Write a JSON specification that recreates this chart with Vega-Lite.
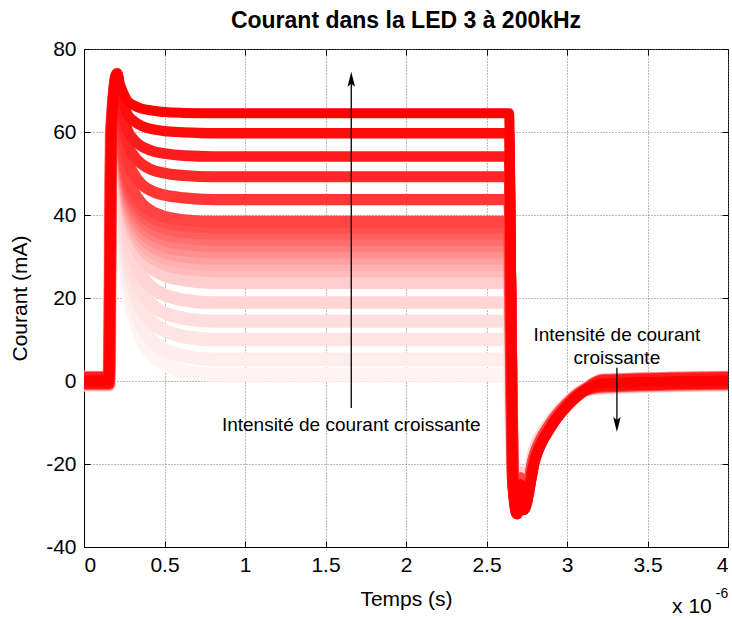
{
"$schema": "https://vega.github.io/schema/vega-lite/v6.json",
"width": 644, "height": 498,
"autosize": {"type": "none"},
"padding": {"left": 84, "top": 49, "right": 4, "bottom": 72},
"background": "white",
"title": {"text": "Courant dans la LED 3 à 200kHz", "fontSize": 23, "font": "Liberation Sans", "fontWeight": "bold", "color": "black", "offset": 5},
"config": {
 "title": {"color": "black"},
 "view": {"stroke": "black", "strokeWidth": 1},
 "axis": {"labelFont": "Liberation Sans", "labelFontSize": 21, "labelColor": "black", "titleFont": "Liberation Sans", "titleFontSize": 21, "titleFontWeight": "normal", "titleColor": "black", "domainColor": "black", "tickColor": "black", "tickSize": -6, "labelPadding": 8, "gridColor": "#777777", "gridDash": [1, 2], "gridWidth": 1}
},
"datasets": {
 "curves": [
  {"L":1.5,"t":0,"v":-0.8},{"L":1.5,"t":0.155,"v":-0.8},{"L":1.5,"t":0.17,"v":60},{"L":1.5,"t":0.205,"v":72},{"L":1.5,"t":0.225,"v":52.3},{"L":1.5,"t":0.245,"v":36.8},{"L":1.5,"t":0.27,"v":24.1},{"L":1.5,"t":0.31,"v":15.6},{"L":1.5,"t":0.36,"v":10},{"L":1.5,"t":0.42,"v":6.4},{"L":1.5,"t":0.5,"v":4},{"L":1.5,"t":0.62,"v":2.3},{"L":1.5,"t":0.8,"v":1.5},{"L":1.5,"t":2.64,"v":1.5},{"L":1.5,"t":2.665,"v":-22},{"L":1.5,"t":2.69,"v":-28.2},{"L":1.5,"t":2.71,"v":-22},{"L":1.5,"t":2.73,"v":-27.3},{"L":1.5,"t":2.8,"v":-16.7},{"L":1.5,"t":2.9,"v":-9.7},{"L":1.5,"t":3.0,"v":-5.3},{"L":1.5,"t":3.1,"v":-2.2},{"L":1.5,"t":3.22,"v":-1.5},{"L":1.5,"t":4,"v":-0.8},
  {"L":5.2,"t":0,"v":0.7},{"L":5.2,"t":0.155,"v":0.7},{"L":5.2,"t":0.17,"v":60},{"L":5.2,"t":0.205,"v":72},{"L":5.2,"t":0.225,"v":53.3},{"L":5.2,"t":0.245,"v":38.6},{"L":5.2,"t":0.27,"v":26.6},{"L":5.2,"t":0.31,"v":18.6},{"L":5.2,"t":0.36,"v":13.2},{"L":5.2,"t":0.42,"v":9.9},{"L":5.2,"t":0.5,"v":7.5},{"L":5.2,"t":0.62,"v":6},{"L":5.2,"t":0.8,"v":5.2},{"L":5.2,"t":2.64,"v":5.2},{"L":5.2,"t":2.665,"v":-22},{"L":5.2,"t":2.69,"v":-28.2},{"L":5.2,"t":2.71,"v":-22},{"L":5.2,"t":2.73,"v":-27.3},{"L":5.2,"t":2.8,"v":-16.7},{"L":5.2,"t":2.9,"v":-9.7},{"L":5.2,"t":3.0,"v":-5.3},{"L":5.2,"t":3.1,"v":-2.2},{"L":5.2,"t":3.22,"v":0},{"L":5.2,"t":4,"v":0.7},
  {"L":10,"t":0,"v":-0.3},{"L":10,"t":0.155,"v":-0.3},{"L":10,"t":0.17,"v":60},{"L":10,"t":0.205,"v":72},{"L":10,"t":0.225,"v":54.6},{"L":10,"t":0.245,"v":41},{"L":10,"t":0.27,"v":29.8},{"L":10,"t":0.31,"v":22.4},{"L":10,"t":0.36,"v":17.4},{"L":10,"t":0.42,"v":14.3},{"L":10,"t":0.5,"v":12.2},{"L":10,"t":0.62,"v":10.7},{"L":10,"t":0.8,"v":10},{"L":10,"t":2.64,"v":10},{"L":10,"t":2.665,"v":-22},{"L":10,"t":2.69,"v":-28.2},{"L":10,"t":2.71,"v":-22},{"L":10,"t":2.73,"v":-27.3},{"L":10,"t":2.8,"v":-16.7},{"L":10,"t":2.9,"v":-9.7},{"L":10,"t":3.0,"v":-5.3},{"L":10,"t":3.1,"v":-2.2},{"L":10,"t":3.22,"v":-1},{"L":10,"t":4,"v":-0.3},
  {"L":14.4,"t":0,"v":0.9},{"L":14.4,"t":0.155,"v":0.9},{"L":14.4,"t":0.17,"v":60},{"L":14.4,"t":0.205,"v":72},{"L":14.4,"t":0.225,"v":55.9},{"L":14.4,"t":0.245,"v":43.2},{"L":14.4,"t":0.27,"v":32.8},{"L":14.4,"t":0.31,"v":25.9},{"L":14.4,"t":0.36,"v":21.3},{"L":14.4,"t":0.42,"v":18.4},{"L":14.4,"t":0.5,"v":16.4},{"L":14.4,"t":0.62,"v":15.1},{"L":14.4,"t":0.8,"v":14.4},{"L":14.4,"t":2.64,"v":14.4},{"L":14.4,"t":2.665,"v":-22},{"L":14.4,"t":2.69,"v":-28.2},{"L":14.4,"t":2.71,"v":-22},{"L":14.4,"t":2.73,"v":-27.3},{"L":14.4,"t":2.8,"v":-16.7},{"L":14.4,"t":2.9,"v":-9.7},{"L":14.4,"t":3.0,"v":-5.3},{"L":14.4,"t":3.1,"v":-2.2},{"L":14.4,"t":3.22,"v":0.2},{"L":14.4,"t":4,"v":0.9},
  {"L":18.9,"t":0,"v":-1},{"L":18.9,"t":0.155,"v":-1},{"L":18.9,"t":0.17,"v":60},{"L":18.9,"t":0.205,"v":72},{"L":18.9,"t":0.225,"v":57.1},{"L":18.9,"t":0.245,"v":45.5},{"L":18.9,"t":0.27,"v":35.9},{"L":18.9,"t":0.31,"v":29.5},{"L":18.9,"t":0.36,"v":25.3},{"L":18.9,"t":0.42,"v":22.6},{"L":18.9,"t":0.5,"v":20.8},{"L":18.9,"t":0.62,"v":19.5},{"L":18.9,"t":0.8,"v":18.9},{"L":18.9,"t":2.64,"v":18.9},{"L":18.9,"t":2.665,"v":-22},{"L":18.9,"t":2.69,"v":-28.2},{"L":18.9,"t":2.71,"v":-22},{"L":18.9,"t":2.73,"v":-27.3},{"L":18.9,"t":2.8,"v":-16.7},{"L":18.9,"t":2.9,"v":-9.7},{"L":18.9,"t":3.0,"v":-5.3},{"L":18.9,"t":3.1,"v":-2.2},{"L":18.9,"t":3.22,"v":-1.7},{"L":18.9,"t":4,"v":-1},
  {"L":23.7,"t":0,"v":0.4},{"L":23.7,"t":0.155,"v":0.4},{"L":23.7,"t":0.17,"v":60},{"L":23.7,"t":0.205,"v":72},{"L":23.7,"t":0.225,"v":58.5},{"L":23.7,"t":0.245,"v":47.9},{"L":23.7,"t":0.27,"v":39.2},{"L":23.7,"t":0.31,"v":33.4},{"L":23.7,"t":0.36,"v":29.5},{"L":23.7,"t":0.42,"v":27.1},{"L":23.7,"t":0.5,"v":25.4},{"L":23.7,"t":0.62,"v":24.3},{"L":23.7,"t":0.8,"v":23.7},{"L":23.7,"t":2.64,"v":23.7},{"L":23.7,"t":2.665,"v":-23.5},{"L":23.7,"t":2.69,"v":-30.1},{"L":23.7,"t":2.71,"v":-23.5},{"L":23.7,"t":2.73,"v":-29.1},{"L":23.7,"t":2.8,"v":-17.9},{"L":23.7,"t":2.9,"v":-10.3},{"L":23.7,"t":3.0,"v":-5.6},{"L":23.7,"t":3.1,"v":-2.4},{"L":23.7,"t":3.22,"v":-0.3},{"L":23.7,"t":4,"v":0.4},
  {"L":26.5,"t":0,"v":-0.5},{"L":26.5,"t":0.155,"v":-0.5},{"L":26.5,"t":0.17,"v":60},{"L":26.5,"t":0.205,"v":72},{"L":26.5,"t":0.225,"v":59.3},{"L":26.5,"t":0.245,"v":49.3},{"L":26.5,"t":0.27,"v":41.1},{"L":26.5,"t":0.31,"v":35.6},{"L":26.5,"t":0.36,"v":32},{"L":26.5,"t":0.42,"v":29.7},{"L":26.5,"t":0.5,"v":28.1},{"L":26.5,"t":0.62,"v":27},{"L":26.5,"t":0.8,"v":26.5},{"L":26.5,"t":2.64,"v":26.5},{"L":26.5,"t":2.665,"v":-23.5},{"L":26.5,"t":2.69,"v":-30.1},{"L":26.5,"t":2.71,"v":-23.5},{"L":26.5,"t":2.73,"v":-29.1},{"L":26.5,"t":2.8,"v":-17.9},{"L":26.5,"t":2.9,"v":-10.3},{"L":26.5,"t":3.0,"v":-5.6},{"L":26.5,"t":3.1,"v":-2.4},{"L":26.5,"t":3.22,"v":-1.2},{"L":26.5,"t":4,"v":-0.5},
  {"L":28,"t":0,"v":0.8},{"L":28,"t":0.155,"v":0.8},{"L":28,"t":0.17,"v":60},{"L":28,"t":0.205,"v":72},{"L":28,"t":0.225,"v":59.7},{"L":28,"t":0.245,"v":50},{"L":28,"t":0.27,"v":42.1},{"L":28,"t":0.31,"v":36.8},{"L":28,"t":0.36,"v":33.3},{"L":28,"t":0.42,"v":31.1},{"L":28,"t":0.5,"v":29.5},{"L":28,"t":0.62,"v":28.5},{"L":28,"t":0.8,"v":28},{"L":28,"t":2.64,"v":28},{"L":28,"t":2.665,"v":-23.5},{"L":28,"t":2.69,"v":-30.1},{"L":28,"t":2.71,"v":-23.5},{"L":28,"t":2.73,"v":-29.1},{"L":28,"t":2.8,"v":-17.9},{"L":28,"t":2.9,"v":-10.3},{"L":28,"t":3.0,"v":-5.6},{"L":28,"t":3.1,"v":-2.4},{"L":28,"t":3.22,"v":0.1},{"L":28,"t":4,"v":0.8},
  {"L":29.5,"t":0,"v":-0.9},{"L":29.5,"t":0.155,"v":-0.9},{"L":29.5,"t":0.17,"v":60},{"L":29.5,"t":0.205,"v":72},{"L":29.5,"t":0.225,"v":60.1},{"L":29.5,"t":0.245,"v":50.8},{"L":29.5,"t":0.27,"v":43.1},{"L":29.5,"t":0.31,"v":38},{"L":29.5,"t":0.36,"v":34.6},{"L":29.5,"t":0.42,"v":32.5},{"L":29.5,"t":0.5,"v":31},{"L":29.5,"t":0.62,"v":30},{"L":29.5,"t":0.8,"v":29.5},{"L":29.5,"t":2.64,"v":29.5},{"L":29.5,"t":2.665,"v":-23.5},{"L":29.5,"t":2.69,"v":-30.1},{"L":29.5,"t":2.71,"v":-23.5},{"L":29.5,"t":2.73,"v":-29.1},{"L":29.5,"t":2.8,"v":-17.9},{"L":29.5,"t":2.9,"v":-10.3},{"L":29.5,"t":3.0,"v":-5.6},{"L":29.5,"t":3.1,"v":-2.4},{"L":29.5,"t":3.22,"v":-1.6},{"L":29.5,"t":4,"v":-0.9},
  {"L":31,"t":0,"v":0.2},{"L":31,"t":0.155,"v":0.2},{"L":31,"t":0.17,"v":60},{"L":31,"t":0.205,"v":72},{"L":31,"t":0.225,"v":60.5},{"L":31,"t":0.245,"v":51.5},{"L":31,"t":0.27,"v":44.1},{"L":31,"t":0.31,"v":39.2},{"L":31,"t":0.36,"v":35.9},{"L":31,"t":0.42,"v":33.9},{"L":31,"t":0.5,"v":32.4},{"L":31,"t":0.62,"v":31.5},{"L":31,"t":0.8,"v":31},{"L":31,"t":2.64,"v":31},{"L":31,"t":2.665,"v":-23.5},{"L":31,"t":2.69,"v":-30.1},{"L":31,"t":2.71,"v":-23.5},{"L":31,"t":2.73,"v":-29.1},{"L":31,"t":2.8,"v":-17.9},{"L":31,"t":2.9,"v":-10.3},{"L":31,"t":3.0,"v":-5.6},{"L":31,"t":3.1,"v":-2.4},{"L":31,"t":3.22,"v":-0.5},{"L":31,"t":4,"v":0.2},
  {"L":32.5,"t":0,"v":-0.6},{"L":32.5,"t":0.155,"v":-0.6},{"L":32.5,"t":0.17,"v":60},{"L":32.5,"t":0.205,"v":72},{"L":32.5,"t":0.225,"v":60.9},{"L":32.5,"t":0.245,"v":52.3},{"L":32.5,"t":0.27,"v":45.1},{"L":32.5,"t":0.31,"v":40.4},{"L":32.5,"t":0.36,"v":37.2},{"L":32.5,"t":0.42,"v":35.3},{"L":32.5,"t":0.5,"v":33.9},{"L":32.5,"t":0.62,"v":33},{"L":32.5,"t":0.8,"v":32.5},{"L":32.5,"t":2.64,"v":32.5},{"L":32.5,"t":2.665,"v":-23.5},{"L":32.5,"t":2.69,"v":-30.1},{"L":32.5,"t":2.71,"v":-23.5},{"L":32.5,"t":2.73,"v":-29.1},{"L":32.5,"t":2.8,"v":-17.9},{"L":32.5,"t":2.9,"v":-10.3},{"L":32.5,"t":3.0,"v":-5.6},{"L":32.5,"t":3.1,"v":-2.4},{"L":32.5,"t":3.22,"v":-1.3},{"L":32.5,"t":4,"v":-0.6},
  {"L":34,"t":0,"v":1},{"L":34,"t":0.155,"v":1},{"L":34,"t":0.17,"v":60},{"L":34,"t":0.205,"v":72},{"L":34,"t":0.225,"v":61.4},{"L":34,"t":0.245,"v":53},{"L":34,"t":0.27,"v":46.2},{"L":34,"t":0.31,"v":41.6},{"L":34,"t":0.36,"v":38.6},{"L":34,"t":0.42,"v":36.7},{"L":34,"t":0.5,"v":35.3},{"L":34,"t":0.62,"v":34.5},{"L":34,"t":0.8,"v":34},{"L":34,"t":2.64,"v":34},{"L":34,"t":2.665,"v":-23.5},{"L":34,"t":2.69,"v":-30.1},{"L":34,"t":2.71,"v":-23.5},{"L":34,"t":2.73,"v":-29.1},{"L":34,"t":2.8,"v":-17.9},{"L":34,"t":2.9,"v":-10.3},{"L":34,"t":3.0,"v":-5.6},{"L":34,"t":3.1,"v":-2.4},{"L":34,"t":3.22,"v":0.3},{"L":34,"t":4,"v":1},
  {"L":35.5,"t":0,"v":-0.2},{"L":35.5,"t":0.155,"v":-0.2},{"L":35.5,"t":0.17,"v":60},{"L":35.5,"t":0.205,"v":72},{"L":35.5,"t":0.225,"v":61.8},{"L":35.5,"t":0.245,"v":53.8},{"L":35.5,"t":0.27,"v":47.2},{"L":35.5,"t":0.31,"v":42.8},{"L":35.5,"t":0.36,"v":39.9},{"L":35.5,"t":0.42,"v":38.1},{"L":35.5,"t":0.5,"v":36.8},{"L":35.5,"t":0.62,"v":35.9},{"L":35.5,"t":0.8,"v":35.5},{"L":35.5,"t":2.64,"v":35.5},{"L":35.5,"t":2.665,"v":-23.5},{"L":35.5,"t":2.69,"v":-30.1},{"L":35.5,"t":2.71,"v":-23.5},{"L":35.5,"t":2.73,"v":-29.1},{"L":35.5,"t":2.8,"v":-17.9},{"L":35.5,"t":2.9,"v":-10.3},{"L":35.5,"t":3.0,"v":-5.6},{"L":35.5,"t":3.1,"v":-2.4},{"L":35.5,"t":3.22,"v":-0.9},{"L":35.5,"t":4,"v":-0.2},
  {"L":37,"t":0,"v":0.5},{"L":37,"t":0.155,"v":0.5},{"L":37,"t":0.17,"v":60},{"L":37,"t":0.205,"v":72},{"L":37,"t":0.225,"v":62.2},{"L":37,"t":0.245,"v":54.5},{"L":37,"t":0.27,"v":48.2},{"L":37,"t":0.31,"v":44},{"L":37,"t":0.36,"v":41.2},{"L":37,"t":0.42,"v":39.5},{"L":37,"t":0.5,"v":38.2},{"L":37,"t":0.62,"v":37.4},{"L":37,"t":0.8,"v":37},{"L":37,"t":2.64,"v":37},{"L":37,"t":2.665,"v":-23.5},{"L":37,"t":2.69,"v":-30.1},{"L":37,"t":2.71,"v":-23.5},{"L":37,"t":2.73,"v":-29.1},{"L":37,"t":2.8,"v":-17.9},{"L":37,"t":2.9,"v":-10.3},{"L":37,"t":3.0,"v":-5.6},{"L":37,"t":3.1,"v":-2.4},{"L":37,"t":3.22,"v":-0.2},{"L":37,"t":4,"v":0.5},
  {"L":38.4,"t":0,"v":-0.7},{"L":38.4,"t":0.155,"v":-0.7},{"L":38.4,"t":0.17,"v":60},{"L":38.4,"t":0.205,"v":74},{"L":38.4,"t":0.225,"v":64},{"L":38.4,"t":0.245,"v":56.2},{"L":38.4,"t":0.27,"v":49.8},{"L":38.4,"t":0.31,"v":45.5},{"L":38.4,"t":0.36,"v":42.7},{"L":38.4,"t":0.42,"v":40.9},{"L":38.4,"t":0.5,"v":39.6},{"L":38.4,"t":0.62,"v":38.8},{"L":38.4,"t":0.8,"v":38.4},{"L":38.4,"t":2.64,"v":38.4},{"L":38.4,"t":2.665,"v":-23.5},{"L":38.4,"t":2.69,"v":-30.1},{"L":38.4,"t":2.71,"v":-23.5},{"L":38.4,"t":2.73,"v":-29.1},{"L":38.4,"t":2.8,"v":-17.9},{"L":38.4,"t":2.9,"v":-10.3},{"L":38.4,"t":3.0,"v":-5.6},{"L":38.4,"t":3.1,"v":-2.4},{"L":38.4,"t":3.22,"v":-1.4},{"L":38.4,"t":4,"v":-0.7},
  {"L":43.7,"t":0,"v":0.6},{"L":43.7,"t":0.155,"v":0.6},{"L":43.7,"t":0.17,"v":60},{"L":43.7,"t":0.205,"v":74},{"L":43.7,"t":0.225,"v":65.5},{"L":43.7,"t":0.245,"v":58.9},{"L":43.7,"t":0.27,"v":53.4},{"L":43.7,"t":0.31,"v":49.8},{"L":43.7,"t":0.36,"v":47.3},{"L":43.7,"t":0.42,"v":45.8},{"L":43.7,"t":0.5,"v":44.8},{"L":43.7,"t":0.62,"v":44.1},{"L":43.7,"t":0.8,"v":43.7},{"L":43.7,"t":2.64,"v":43.7},{"L":43.7,"t":2.665,"v":-25},{"L":43.7,"t":2.69,"v":-32},{"L":43.7,"t":2.71,"v":-25},{"L":43.7,"t":2.73,"v":-31},{"L":43.7,"t":2.8,"v":-19},{"L":43.7,"t":2.9,"v":-11},{"L":43.7,"t":3.0,"v":-6},{"L":43.7,"t":3.1,"v":-2.5},{"L":43.7,"t":3.22,"v":-0.1},{"L":43.7,"t":4,"v":0.6},
  {"L":49.2,"t":0,"v":-0.4},{"L":49.2,"t":0.155,"v":-0.4},{"L":49.2,"t":0.17,"v":60},{"L":49.2,"t":0.205,"v":74},{"L":49.2,"t":0.225,"v":67.1},{"L":49.2,"t":0.245,"v":61.6},{"L":49.2,"t":0.27,"v":57.1},{"L":49.2,"t":0.31,"v":54.2},{"L":49.2,"t":0.36,"v":52.2},{"L":49.2,"t":0.42,"v":50.9},{"L":49.2,"t":0.5,"v":50.1},{"L":49.2,"t":0.62,"v":49.5},{"L":49.2,"t":0.8,"v":49.2},{"L":49.2,"t":2.64,"v":49.2},{"L":49.2,"t":2.665,"v":-25},{"L":49.2,"t":2.69,"v":-32},{"L":49.2,"t":2.71,"v":-25},{"L":49.2,"t":2.73,"v":-31},{"L":49.2,"t":2.8,"v":-19},{"L":49.2,"t":2.9,"v":-11},{"L":49.2,"t":3.0,"v":-6},{"L":49.2,"t":3.1,"v":-2.5},{"L":49.2,"t":3.22,"v":-1.1},{"L":49.2,"t":4,"v":-0.4},
  {"L":54.1,"t":0,"v":0.9},{"L":54.1,"t":0.155,"v":0.9},{"L":54.1,"t":0.17,"v":60},{"L":54.1,"t":0.205,"v":74},{"L":54.1,"t":0.225,"v":68.4},{"L":54.1,"t":0.245,"v":64.1},{"L":54.1,"t":0.27,"v":60.5},{"L":54.1,"t":0.31,"v":58.1},{"L":54.1,"t":0.36,"v":56.5},{"L":54.1,"t":0.42,"v":55.5},{"L":54.1,"t":0.5,"v":54.8},{"L":54.1,"t":0.62,"v":54.3},{"L":54.1,"t":0.8,"v":54.1},{"L":54.1,"t":2.64,"v":54.1},{"L":54.1,"t":2.665,"v":-25},{"L":54.1,"t":2.69,"v":-32},{"L":54.1,"t":2.71,"v":-25},{"L":54.1,"t":2.73,"v":-31},{"L":54.1,"t":2.8,"v":-19},{"L":54.1,"t":2.9,"v":-11},{"L":54.1,"t":3.0,"v":-6},{"L":54.1,"t":3.1,"v":-2.5},{"L":54.1,"t":3.22,"v":0.2},{"L":54.1,"t":4,"v":0.9},
  {"L":59.7,"t":0,"v":-0.6},{"L":59.7,"t":0.155,"v":-0.6},{"L":59.7,"t":0.17,"v":60},{"L":59.7,"t":0.205,"v":74},{"L":59.7,"t":0.225,"v":70},{"L":59.7,"t":0.245,"v":66.9},{"L":59.7,"t":0.27,"v":64.3},{"L":59.7,"t":0.31,"v":62.6},{"L":59.7,"t":0.36,"v":61.4},{"L":59.7,"t":0.42,"v":60.7},{"L":59.7,"t":0.5,"v":60.2},{"L":59.7,"t":0.62,"v":59.9},{"L":59.7,"t":0.8,"v":59.7},{"L":59.7,"t":2.64,"v":59.7},{"L":59.7,"t":2.665,"v":-25},{"L":59.7,"t":2.69,"v":-32},{"L":59.7,"t":2.71,"v":-25},{"L":59.7,"t":2.73,"v":-31},{"L":59.7,"t":2.8,"v":-19},{"L":59.7,"t":2.9,"v":-11},{"L":59.7,"t":3.0,"v":-6},{"L":59.7,"t":3.1,"v":-2.5},{"L":59.7,"t":3.22,"v":-1.3},{"L":59.7,"t":4,"v":-0.6},
  {"L":64.5,"t":0,"v":0.1},{"L":64.5,"t":0.155,"v":0.1},{"L":64.5,"t":0.17,"v":60},{"L":64.5,"t":0.205,"v":74},{"L":64.5,"t":0.225,"v":71.3},{"L":64.5,"t":0.245,"v":69.3},{"L":64.5,"t":0.27,"v":67.5},{"L":64.5,"t":0.31,"v":66.4},{"L":64.5,"t":0.36,"v":65.6},{"L":64.5,"t":0.42,"v":65.2},{"L":64.5,"t":0.5,"v":64.8},{"L":64.5,"t":0.62,"v":64.6},{"L":64.5,"t":0.8,"v":64.5},{"L":64.5,"t":2.64,"v":64.5},{"L":64.5,"t":2.665,"v":-25},{"L":64.5,"t":2.69,"v":-32},{"L":64.5,"t":2.71,"v":-25},{"L":64.5,"t":2.73,"v":-31},{"L":64.5,"t":2.8,"v":-19},{"L":64.5,"t":2.9,"v":-11},{"L":64.5,"t":3.0,"v":-6},{"L":64.5,"t":3.1,"v":-2.5},{"L":64.5,"t":3.22,"v":-0.6},{"L":64.5,"t":4,"v":0.1}
 ],
 "shafts": [{"t": 1.66, "v": -6.5, "v2": 73}, {"t": 3.31, "v": 3.2, "v2": -11}],
 "notes": [{"t": 1.66, "v": -10.6, "label": "Intensité de courant croissante"}, {"t": 3.31, "v": 11.1, "label": "Intensité de courant"}, {"t": 3.31, "v": 5.5, "label": "croissante"}]
},
"resolve": {"axis": {"x": "independent", "y": "independent"}},
"layer": [
 {
  "data": {"name": "curves"},
  "mark": {"type": "line", "strokeJoin": "round", "clip": true, "interpolate": "monotone"},
  "encoding": {
   "x": {"field": "t", "type": "quantitative", "scale": {"domain": [0, 4], "nice": false, "zero": false}, "axis": {"title": "Temps (s)", "values": [0, 0.5, 1, 1.5, 2, 2.5, 3, 3.5, 4], "labelExpr": "'' + datum.value", "grid": true, "labelPadding": 13, "titlePadding": 13}},
   "y": {"field": "v", "type": "quantitative", "scale": {"domain": [-40, 80], "nice": false, "zero": false}, "axis": {"title": "Courant (mA)", "values": [-40, -20, 0, 20, 40, 60, 80], "labelExpr": "'' + datum.value", "grid": true, "labelPadding": 14, "titlePadding": 15}},
   "color": {"field": "L", "type": "quantitative", "scale": {"domain": [1.5, 24, 28, 33, 38, 65], "range": ["#fff3f3", "#ffcccc", "#ffb0b0", "#ff7a7a", "#ff4444", "#ff0000"], "interpolate": "rgb"}, "legend": null},
   "size": {"field": "L", "type": "quantitative", "scale": {"domain": [0, 65], "range": [14, 10]}, "legend": null},
   "detail": {"field": "L", "type": "nominal"}
  }
 },
 {
  "data": {"name": "shafts"},
  "mark": {"type": "rule", "color": "black", "strokeWidth": 1.3},
  "encoding": {
   "x": {"field": "t", "type": "quantitative", "axis": {"orient": "top", "labels": false, "title": null, "grid": false, "values": [0, 0.5, 1, 1.5, 2, 2.5, 3, 3.5, 4], "domain": false}},
   "y": {"field": "v", "type": "quantitative", "axis": {"orient": "right", "labels": false, "title": null, "grid": false, "values": [-40, -20, 0, 20, 40, 60, 80], "domain": false}},
   "y2": {"field": "v2"}
  }
 },
 {
  "data": {"values": [{"t": 1.66, "v": 72.7}]},
  "mark": {"type": "point", "shape": "M0,-1L0.5,1L0,0.6L-0.5,1Z", "filled": true, "color": "black", "size": 225, "opacity": 1},
  "encoding": {"x": {"field": "t", "type": "quantitative", "axis": null}, "y": {"field": "v", "type": "quantitative", "axis": null}}
 },
 {
  "data": {"values": [{"t": 3.31, "v": -10.5}]},
  "mark": {"type": "point", "shape": "M0,1L0.5,-1L0,-0.6L-0.5,-1Z", "filled": true, "color": "black", "size": 225, "opacity": 1},
  "encoding": {"x": {"field": "t", "type": "quantitative", "axis": null}, "y": {"field": "v", "type": "quantitative", "axis": null}}
 },
 {
  "data": {"name": "notes"},
  "mark": {"type": "text", "font": "Liberation Sans", "fontSize": 19, "color": "black", "align": "center", "baseline": "middle"},
  "encoding": {"x": {"field": "t", "type": "quantitative", "axis": null}, "y": {"field": "v", "type": "quantitative", "axis": null}, "text": {"field": "label"}}
 },
 {
  "data": {"values": [{"t": 3.776, "v": -54.5, "label": "x 10"}]},
  "mark": {"type": "text", "font": "Liberation Sans", "fontSize": 21, "color": "black", "align": "center", "baseline": "middle", "clip": false},
  "encoding": {"x": {"field": "t", "type": "quantitative", "axis": null}, "y": {"field": "v", "type": "quantitative", "axis": null}, "text": {"field": "label"}}
 },
 {
  "data": {"values": [{"t": 3.963, "v": -51.3, "label": "-6"}]},
  "mark": {"type": "text", "font": "Liberation Sans", "fontSize": 14, "color": "black", "align": "center", "baseline": "middle", "clip": false},
  "encoding": {"x": {"field": "t", "type": "quantitative", "axis": null}, "y": {"field": "v", "type": "quantitative", "axis": null}, "text": {"field": "label"}}
 }
]
}
